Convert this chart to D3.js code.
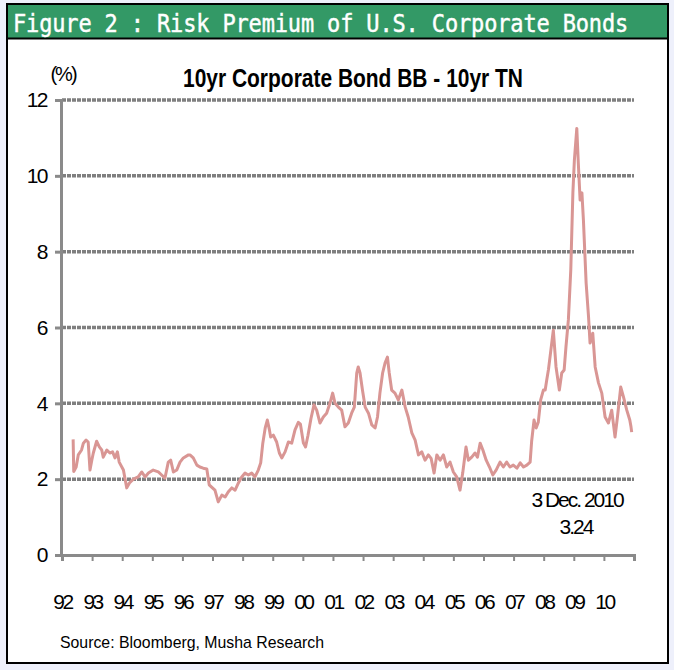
<!DOCTYPE html>
<html>
<head>
<meta charset="utf-8">
<script src="https://cdn.jsdelivr.net/npm/d3@7"></script>
<style>
  html, body { margin: 0; padding: 0; background: #eef0fb; }
  svg { display: block; }
</style>
</head>
<body>
<svg id="chart" width="674" height="670"></svg>
<script>
// Spread: 10yr BB corporate bond yield minus 10yr Treasury note (%), by decimal year
const years = [
  1992.37, 1992.39, 1992.47, 1992.54, 1992.65, 1992.71, 1992.80, 1992.87, 1992.93, 1992.99,
  1993.04, 1993.15, 1993.24, 1993.32, 1993.37, 1993.49, 1993.59, 1993.68, 1993.76, 1993.84, 1993.90,
  1994.04, 1994.15, 1994.24, 1994.37, 1994.53, 1994.65, 1994.76, 1994.87,
  1995.03, 1995.20, 1995.31, 1995.42, 1995.53, 1995.61, 1995.70, 1995.81, 1995.92,
  1996.03, 1996.20, 1996.25, 1996.36, 1996.48, 1996.58, 1996.69, 1996.81, 1996.89, 1996.97,
  1997.08, 1997.19, 1997.31, 1997.42, 1997.52, 1997.64, 1997.75, 1997.86, 1997.97,
  1998.08, 1998.19, 1998.30, 1998.41, 1998.52, 1998.60, 1998.67, 1998.75, 1998.82, 1998.89, 1998.93,
  1999.02, 1999.13, 1999.22, 1999.30, 1999.41, 1999.52, 1999.63, 1999.74, 1999.85, 1999.92,
  2000.02, 2000.09, 2000.17, 2000.27, 2000.37, 2000.46, 2000.57, 2000.68, 2000.79, 2000.90, 2000.99,
  2001.07, 2001.18, 2001.29, 2001.40, 2001.51, 2001.62, 2001.71, 2001.79, 2001.84, 2001.90, 2001.98,
  2002.07, 2002.18, 2002.29, 2002.40, 2002.48, 2002.56, 2002.65, 2002.73, 2002.81, 2002.87, 2002.95,
  2003.06, 2003.17, 2003.29, 2003.40, 2003.50, 2003.62, 2003.73, 2003.84, 2003.95,
  2004.06, 2004.17, 2004.26, 2004.36, 2004.45, 2004.56, 2004.67, 2004.78, 2004.89,
  2005.00, 2005.11, 2005.22, 2005.31, 2005.42, 2005.50, 2005.61, 2005.72, 2005.80, 2005.89, 2005.98,
  2006.09, 2006.20, 2006.31, 2006.42, 2006.55, 2006.66, 2006.77, 2006.88, 2006.99,
  2007.11, 2007.22, 2007.33, 2007.44, 2007.55, 2007.60, 2007.68, 2007.75, 2007.82, 2007.90, 2007.99,
  2008.05, 2008.10, 2008.16, 2008.24, 2008.32, 2008.41, 2008.52, 2008.60, 2008.68, 2008.74, 2008.82, 2008.90, 2008.97,
  2009.02, 2009.10, 2009.15, 2009.21, 2009.27, 2009.32, 2009.41, 2009.49, 2009.54, 2009.63, 2009.71, 2009.82, 2009.93,
  2010.04, 2010.15, 2010.26, 2010.37, 2010.45, 2010.56, 2010.65, 2010.76, 2010.86, 2010.90, 2010.923
];
const spread = [
  3.05, 2.20, 2.32, 2.64, 2.77, 2.95, 3.03, 2.98, 2.24, 2.50,
  2.69, 3.00, 2.85, 2.77, 2.58, 2.77, 2.69, 2.72, 2.56, 2.72, 2.45,
  2.24, 1.77, 1.90, 2.00, 2.06, 2.19, 2.06, 2.16,
  2.24, 2.19, 2.11, 2.03, 2.45, 2.50, 2.19, 2.24, 2.45,
  2.56, 2.64, 2.64, 2.56, 2.37, 2.32, 2.29, 2.27, 1.85, 1.79,
  1.71, 1.40, 1.58, 1.53, 1.66, 1.77, 1.71, 1.90, 2.06,
  2.16, 2.11, 2.16, 2.06, 2.24, 2.43, 2.95, 3.35, 3.56, 3.30, 3.11,
  3.16, 2.98, 2.69, 2.56, 2.72, 2.98, 2.95, 3.30, 3.50, 3.45,
  2.95, 2.85, 3.15, 3.60, 3.96, 3.82, 3.48, 3.64, 3.74, 4.00, 4.27,
  4.00, 3.90, 3.82, 3.38, 3.48, 3.74, 3.90, 4.80, 4.96, 4.80, 4.35,
  3.90, 3.74, 3.43, 3.35, 3.64, 4.27, 4.80, 5.06, 5.22, 4.80, 4.35,
  4.27, 4.09, 4.35, 3.90, 3.64, 3.22, 3.03, 2.64, 2.72,
  2.50, 2.64, 2.55, 2.16, 2.64, 2.50, 2.64, 2.32, 2.45,
  2.19, 2.06, 1.71, 2.16, 2.85, 2.50, 2.58, 2.69, 2.58, 2.95, 2.77,
  2.50, 2.32, 2.11, 2.24, 2.45, 2.32, 2.45, 2.32, 2.37,
  2.29, 2.43, 2.32, 2.37, 2.45, 3.00, 3.56, 3.35, 3.50, 4.09, 4.35,
  4.35, 4.61, 4.90, 5.41, 5.93, 4.96, 4.35, 4.80, 4.88, 5.49, 6.20, 7.52, 9.55,
  10.42, 11.25, 10.34, 9.36, 9.55, 8.83, 7.17, 6.28, 5.59, 5.85, 4.96, 4.54, 4.27,
  3.64, 3.48, 3.82, 3.11, 3.64, 4.43, 4.17, 3.82, 3.56, 3.38, 3.24
];

const yTicks = [0, 2, 4, 6, 8, 10, 12];
const xTickYears = d3.range(1992, 2011);

const headerText = "Figure 2 : Risk Premium of U.S.  Corporate Bonds";
const chartTitle = "10yr Corporate Bond BB - 10yr TN";
const unitLabel = "(%)";
const lastDateLabel = "3 Dec. 2010";
const lastValueLabel = spread[spread.length - 1].toFixed(2);
const sourceText = "Source: Bloomberg, Musha Research";

const svg = d3.select("#chart");

// outer frame and green header band
svg.append("rect").attr("x", 7).attr("y", 4).attr("width", 661).attr("height", 659)
  .attr("fill", "#ffffff");
svg.append("rect").attr("x", 7).attr("y", 4).attr("width", 661).attr("height", 34)
  .attr("fill", "#339966");
svg.append("line").attr("x1", 6).attr("x2", 669).attr("y1", 38.5).attr("y2", 38.5)
  .attr("stroke", "#000").attr("stroke-width", 2);
svg.append("rect").attr("x", 7).attr("y", 4).attr("width", 661).attr("height", 659)
  .attr("fill", "none").attr("stroke", "#000").attr("stroke-width", 2);

// header caption: narrow monospace, slightly stretched vertically
svg.append("text")
  .attr("transform", "translate(13,32) scale(1,1.12)")
  .attr("font-family", "'DejaVu Sans Mono', monospace").attr("font-size", 22)
  .attr("letter-spacing", "-0.15")
  .attr("fill", "#ffffff").attr("stroke", "#ffffff").attr("stroke-width", 0.4)
  .text(headerText);

// scales
const x = d3.scaleLinear().domain([1992, 2011]).range([62, 634]);
const y = d3.scaleLinear().domain([0, 12]).range([555, 100]);

// horizontal grid lines
svg.append("g").selectAll("line").data(yTicks.filter(d => d > 0)).join("line")
  .attr("x1", x(1992)).attr("x2", x(2011))
  .attr("y1", d => y(d)).attr("y2", d => y(d))
  .attr("stroke", "#7f7f7f").attr("stroke-width", 3.5)
  .attr("stroke-dasharray", "4,1");

// y axis
const yAxis = svg.append("g").attr("transform", `translate(${x(1992) - 1},0)`)
  .call(d3.axisLeft(y).tickValues(yTicks).tickSize(6).tickPadding(8).tickFormat(d3.format("d")));
yAxis.select(".domain").attr("stroke", "#8a8a8a").attr("stroke-width", 3);
yAxis.selectAll(".tick line").attr("stroke", "#8a8a8a").attr("stroke-width", 3);
yAxis.selectAll(".tick text")
  .attr("font-family", "'Liberation Sans', Arial, sans-serif").attr("font-size", 21)
  .attr("letter-spacing", "-1.5").attr("fill", "#000");

// x axis
const xAxis = svg.append("g").attr("transform", `translate(0,${y(0)})`)
  .call(d3.axisBottom(x).tickValues(xTickYears).tickSize(6).tickPadding(33)
    .tickFormat(d => String(d % 100).padStart(2, "0")));
xAxis.select(".domain").attr("stroke", "#8a8a8a").attr("stroke-width", 3);
xAxis.selectAll(".tick line").attr("stroke", "#8a8a8a").attr("stroke-width", 2);
xAxis.selectAll(".tick text")
  .attr("font-family", "'Liberation Sans', Arial, sans-serif").attr("font-size", 21)
  .attr("letter-spacing", "-2.5").attr("fill", "#000");

// spread line
const series = years.map((yr, i) => ({ yr, v: spread[i] }));
svg.append("path").datum(series)
  .attr("fill", "none").attr("stroke", "#d99694").attr("stroke-width", 3)
  .attr("stroke-linejoin", "round")
  .attr("d", d3.line().x(d => x(d.yr)).y(d => y(d.v)));

// titles and notes
svg.append("text").attr("x", 353).attr("y", 87).attr("text-anchor", "middle")
  .attr("font-family", "'Liberation Sans', Arial, sans-serif").attr("font-size", 25)
  .attr("font-weight", "bold")
  .attr("textLength", 340).attr("lengthAdjust", "spacingAndGlyphs")
  .text(chartTitle);
svg.append("text").attr("x", 63).attr("y", 81).attr("text-anchor", "middle")
  .attr("font-family", "'Liberation Sans', Arial, sans-serif").attr("font-size", 20)
  .attr("letter-spacing", "-2")
  .text(unitLabel);

svg.append("text").attr("x", 577).attr("y", 507).attr("text-anchor", "middle")
  .attr("font-family", "'Liberation Sans', Arial, sans-serif").attr("font-size", 21)
  .attr("letter-spacing", "-2")
  .text(lastDateLabel);
svg.append("text").attr("x", 576).attr("y", 534).attr("text-anchor", "middle")
  .attr("font-family", "'Liberation Sans', Arial, sans-serif").attr("font-size", 21)
  .attr("letter-spacing", "-2")
  .text(lastValueLabel);

svg.append("text").attr("x", 60).attr("y", 648)
  .attr("font-family", "'Liberation Sans', Arial, sans-serif").attr("font-size", 17)
  .attr("textLength", 264).attr("lengthAdjust", "spacingAndGlyphs")
  .text(sourceText);
</script>
</body>
</html>
